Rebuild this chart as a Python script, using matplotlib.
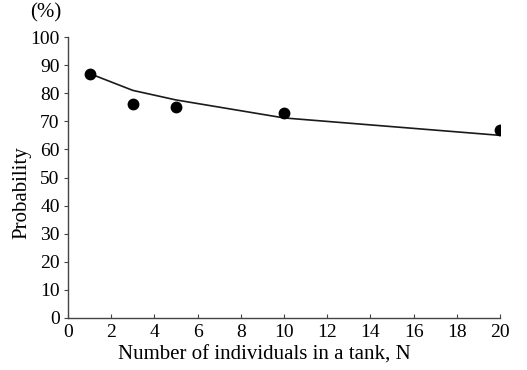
import matplotlib.pyplot as plt

# observed points
n_obs = [1, 3, 5, 10, 20]
p_obs = [87, 76, 75, 73, 67]

# fitted curve
n_fit = [1, 3, 5, 10, 20]
p_fit = [87, 81, 77.6, 71.2, 65]

plt.rcParams['font.family'] = ['Liberation Serif', 'DejaVu Serif']

fig = plt.figure(figsize=(5.27, 3.70), dpi=100)
ax = fig.add_axes([68 / 527, 1 - 318 / 370, 432 / 527, 281 / 370])

ax.plot(n_fit, p_fit, color='#1a1a1a', lw=1.2)
ax.plot(n_obs, p_obs, 'o', color='black', ms=7.5)

ax.set_xlim(0, 20)
ax.set_ylim(0, 100)
ax.set_xticks(range(0, 21, 2))
ax.set_yticks(range(0, 101, 10))
ax.spines['top'].set_visible(False)
ax.spines['right'].set_visible(False)
for s in ('left', 'bottom'):
    ax.spines[s].set_color('#444444')
    ax.spines[s].set_linewidth(1.0)
ax.tick_params(axis='x', direction='in', length=3, labelsize=14, pad=4, color='#444444')
ax.tick_params(axis='y', direction='out', length=3, labelsize=14, pad=3, color='#444444')

ax.set_xlabel('Number of individuals in a tank, N', fontsize=15)
ax.xaxis.set_label_coords((264 - 68) / 432, -(355 - 318) / 281)
ax.xaxis.label.set_va('center')
ax.set_ylabel('Probability', fontsize=15)
ax.yaxis.set_label_coords(-(68 - 22) / 432, (318 - 193) / 281)
ax.yaxis.label.set_va('center')
fig.text(30 / 527, 1 - 13 / 370, '(%)', fontsize=15, ha='left', va='center')

fig.savefig('out.png', dpi=100)
